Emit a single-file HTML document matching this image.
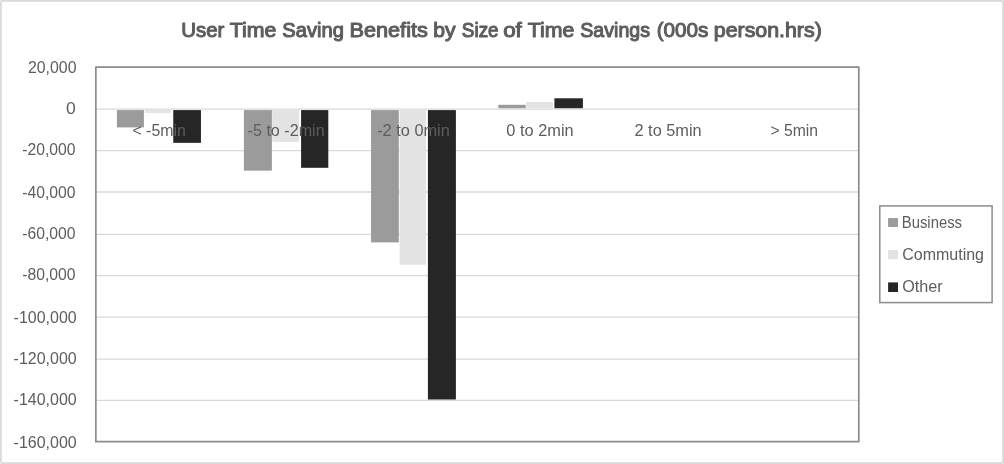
<!DOCTYPE html>
<html lang="en">
<head>
<meta charset="utf-8">
<title>User Time Saving Benefits by Size of Time Savings</title>
<style>
html,body{margin:0;padding:0;background:#ffffff;}
body{width:1004px;height:464px;overflow:hidden;}
svg{display:block;}
text{white-space:pre;}
</style>
</head>
<body>
<svg width="1004" height="464" viewBox="0 0 1004 464" font-family='"Liberation Sans", sans-serif' fill="#5d5d5d">
<rect x="0" y="0" width="1004" height="464" fill="#ffffff"/>
<rect x="0.9" y="0.9" width="1002.2" height="462.2" rx="1" fill="none" stroke="#dadada" stroke-width="1.8"/>
<line x1="95.85" x2="858.8" y1="109.1" y2="109.1" stroke="#d9d9d9" stroke-width="1.3"/>
<line x1="95.85" x2="858.8" y1="150.7" y2="150.7" stroke="#d9d9d9" stroke-width="1.3"/>
<line x1="95.85" x2="858.8" y1="192.0" y2="192.0" stroke="#d9d9d9" stroke-width="1.3"/>
<line x1="95.85" x2="858.8" y1="234.3" y2="234.3" stroke="#d9d9d9" stroke-width="1.3"/>
<line x1="95.85" x2="858.8" y1="275.7" y2="275.7" stroke="#d9d9d9" stroke-width="1.3"/>
<line x1="95.85" x2="858.8" y1="317.1" y2="317.1" stroke="#d9d9d9" stroke-width="1.3"/>
<line x1="95.85" x2="858.8" y1="359.2" y2="359.2" stroke="#d9d9d9" stroke-width="1.3"/>
<line x1="95.85" x2="858.8" y1="400.35" y2="400.35" stroke="#d9d9d9" stroke-width="1.3"/>
<rect x="116.9" y="110.1" width="27.00" height="17.30" fill="#9b9b9b"/>
<rect x="144.95" y="110.1" width="25.85" height="2.80" fill="#e3e3e3"/>
<rect x="173.25" y="110.1" width="27.70" height="32.75" fill="#262626"/>
<rect x="243.9" y="110.1" width="28.00" height="60.55" fill="#9b9b9b"/>
<rect x="272.2" y="110.1" width="26.80" height="31.75" fill="#e3e3e3"/>
<rect x="301.1" y="110.1" width="27.20" height="57.70" fill="#262626"/>
<rect x="371.05" y="110.1" width="27.75" height="132.30" fill="#9b9b9b"/>
<rect x="399.6" y="110.1" width="26.45" height="154.60" fill="#e3e3e3"/>
<rect x="427.9" y="110.1" width="28.00" height="289.40" fill="#262626"/>
<rect x="498.3" y="104.8" width="27.45" height="3.40" fill="#9b9b9b"/>
<rect x="526.2" y="102.1" width="26.70" height="6.20" fill="#e3e3e3"/>
<rect x="554.4" y="98.3" width="28.50" height="9.90" fill="#262626"/>
<rect x="95.85" y="67.1" width="762.95" height="374.60" fill="none" stroke="#8c8c8c" stroke-width="1.7" stroke-linejoin="round"/>
<text y="37.0" font-size="19.6" stroke="#5d5d5d" stroke-width="1.0" stroke-linejoin="round"><tspan x="181.27" textLength="43.06" lengthAdjust="spacingAndGlyphs">User</tspan> <tspan x="229.82" textLength="46.54" lengthAdjust="spacingAndGlyphs">Time</tspan> <tspan x="282.29" textLength="61.57" lengthAdjust="spacingAndGlyphs">Saving</tspan> <tspan x="349.51" textLength="78.32" lengthAdjust="spacingAndGlyphs">Benefits</tspan> <tspan x="433.23" textLength="22.25" lengthAdjust="spacingAndGlyphs">by</tspan> <tspan x="461.85" textLength="36.76" lengthAdjust="spacingAndGlyphs">Size</tspan> <tspan x="503.15" textLength="18.63" lengthAdjust="spacingAndGlyphs">of</tspan> <tspan x="527.72" textLength="46.54" lengthAdjust="spacingAndGlyphs">Time</tspan> <tspan x="580.32" textLength="69.67" lengthAdjust="spacingAndGlyphs">Savings</tspan> <tspan x="656.71" textLength="51.69" lengthAdjust="spacingAndGlyphs">(000s</tspan> <tspan x="713.81" textLength="107.97" lengthAdjust="spacingAndGlyphs">person.hrs)</tspan></text>
<text x="27.91" y="72.70" font-size="15.6" textLength="48.61" lengthAdjust="spacingAndGlyphs">20,000</text>
<text x="65.90" y="113.90" font-size="15.6" textLength="9.78" lengthAdjust="spacingAndGlyphs">0</text>
<text x="22.19" y="155.40" font-size="15.6" textLength="53.32" lengthAdjust="spacingAndGlyphs">-20,000</text>
<text x="22.19" y="197.60" font-size="15.6" textLength="53.32" lengthAdjust="spacingAndGlyphs">-40,000</text>
<text x="22.19" y="238.80" font-size="15.6" textLength="53.32" lengthAdjust="spacingAndGlyphs">-60,000</text>
<text x="22.19" y="280.20" font-size="15.6" textLength="53.32" lengthAdjust="spacingAndGlyphs">-80,000</text>
<text x="13.63" y="322.70" font-size="15.6" textLength="63.07" lengthAdjust="spacingAndGlyphs">-100,000</text>
<text x="13.63" y="364.00" font-size="15.6" textLength="63.07" lengthAdjust="spacingAndGlyphs">-120,000</text>
<text x="13.63" y="405.20" font-size="15.6" textLength="63.07" lengthAdjust="spacingAndGlyphs">-140,000</text>
<text x="13.63" y="447.55" font-size="15.6" textLength="63.07" lengthAdjust="spacingAndGlyphs">-160,000</text>
<text x="132.40" y="135.70" font-size="15.6" textLength="53.53" lengthAdjust="spacingAndGlyphs">&lt; -5min</text>
<text x="247.57" y="135.70" font-size="15.6" textLength="77.06" lengthAdjust="spacingAndGlyphs">-5 to -2min</text>
<text x="377.16" y="135.70" font-size="15.6" textLength="72.68" lengthAdjust="spacingAndGlyphs">-2 to 0min</text>
<text x="506.35" y="135.70" font-size="15.6" textLength="67.29" lengthAdjust="spacingAndGlyphs">0 to 2min</text>
<text x="634.48" y="135.70" font-size="15.6" textLength="67.25" lengthAdjust="spacingAndGlyphs">2 to 5min</text>
<text x="770.51" y="135.70" font-size="15.6" textLength="47.60" lengthAdjust="spacingAndGlyphs">&gt; 5min</text>
<rect x="879.8" y="205.9" width="112.30" height="96.70" fill="none" stroke="#8c8c8c" stroke-width="1.5"/>
<rect x="888.1" y="218.05" width="9.9" height="8.95" fill="#9b9b9b"/>
<text x="901.78" y="227.70" font-size="15.7" textLength="60.25" lengthAdjust="spacingAndGlyphs">Business</text>
<rect x="888.1" y="250.10" width="9.9" height="9.00" fill="#e3e3e3"/>
<text x="902.20" y="260.30" font-size="15.7" textLength="81.81" lengthAdjust="spacingAndGlyphs">Commuting</text>
<rect x="888.1" y="282.40" width="9.9" height="9.60" fill="#262626"/>
<text x="902.23" y="292.40" font-size="15.7" textLength="40.43" lengthAdjust="spacingAndGlyphs">Other</text>
</svg>
</body>
</html>
